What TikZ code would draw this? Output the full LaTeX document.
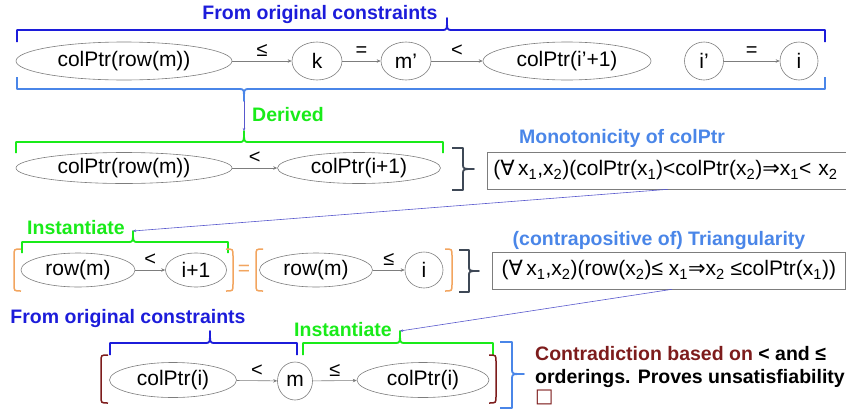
\documentclass[tikz,border=0pt]{standalone}
\usepackage{fontspec}
\setmainfont{Liberation Sans}
\newfontfamily\symfont{DejaVu Sans}
\usetikzlibrary{shapes.geometric, arrows.meta, calc}

\definecolor{origblue}{RGB}{28,28,218}
\definecolor{factblue}{RGB}{74,134,232}
\definecolor{derivgreen}{RGB}{25,235,25}
\definecolor{eqorange}{RGB}{242,165,95}
\definecolor{contrared}{RGB}{125,28,28}
\definecolor{bracegray}{RGB}{62,72,86}
\definecolor{linkblue}{RGB}{88,88,205}
\definecolor{nodegray}{RGB}{125,125,125}

\tikzset{
	oval/.style={ellipse, draw=nodegray, line width=0.6pt, inner sep=0pt, font=\fontsize{21}{25}\selectfont},
	rel/.style={draw=nodegray, line width=0.6pt, -{Stealth[length=4pt,width=3.5pt]}},
	relsym/.style={midway, above=1pt, font=\fontsize{20}{24}\selectfont},
	tag/.style={font=\bfseries\fontsize{19.5}{23}\selectfont},
	law/.style={draw=nodegray, line width=0.6pt, rectangle, minimum height=37pt, inner sep=0pt, font=\fontsize{21}{25}\selectfont},
	link/.style={draw=linkblue, line width=0.6pt, -{Stealth[length=3pt,width=2.5pt]}},
	brace/.style={line width=1.8pt, line join=round}
}

% horizontal brace: name of tip, colour, x left, x right, x tip, y of bar, legs
\newcommand{\hbrace}[7]{%
	\draw[brace, #2] (#3,{#6+(#7)}) -- (#3,#6) -- (#5-5,#6)
		.. controls (#5,#6) .. (#5,{#6-(#7)})
		.. controls (#5,#6) .. (#5+5,#6) -- (#4,#6) -- (#4,{#6+(#7)});
	\coordinate (#1) at (#5,{#6-(#7)});}

% vertical brace: colour, x of bar, y top, y bottom, y tip, legs
\newcommand{\vbrace}[6]{%
	\draw[brace, #1] (#2-#6,#3) -- (#2,#3) -- (#2,#5-5)
		.. controls (#2,#5) .. (#2+#6,#5)
		.. controls (#2,#5) .. (#2,#5+5) -- (#2,#4) -- (#2-#6,#4);}

% round side bracket: colour, x, y top, y bottom, curl
\newcommand{\sidebar}[5]{%
	\draw[#1, line width=1.5pt] ({#2+(#5)},#3) .. controls (#2,#3) .. (#2,#3+7)
		-- (#2,#4-7) .. controls (#2,#4) .. ({#2+(#5)},#4);}

\begin{document}
\begin{tikzpicture}[x=1pt, y=-1pt]
	\useasboundingbox (0,0) rectangle (846,410);

% given chain

	\node[tag, text=origblue] (givenTag) at (320,14) {From original constraints};
	\hbrace{givenTop}{origblue}{17}{825}{447}{30}{12}
	
	\node[oval, minimum width=216pt, minimum height=38pt] (cpRowM) at (124,61) {colPtr(row(m))};
	\node[oval, minimum width=50pt, minimum height=38pt] (k) at (317,61) {k};
	\node[oval, minimum width=50pt, minimum height=38pt] (mp) at (406,61) {m'};
	\node[oval, minimum width=168pt, minimum height=38pt] (cpIp) at (567,61) {colPtr(i'+1)};
	\node[oval, minimum width=39pt, minimum height=38pt] (ip) at (704,61) {i'};
	\node[oval, minimum width=38pt, minimum height=38pt] (i) at (799,61) {i};
	
	\draw[rel] (cpRowM) -- node[relsym] {≤} (k);
	\draw[rel] (k) -- node[relsym] {=} (mp);
	\draw[rel] (mp) -- node[relsym] {<} (cpIp);
	\draw[rel] (ip) -- node[relsym] {=} (i);
	
	\hbrace{givenFoot}{factblue}{17}{825}{244}{89}{-12}
	
% derived

	\node[tag, text=derivgreen] (derivedTag) at (288,115) {Derived};
	\hbrace{derivedTip}{derivgreen}{16}{443}{244}{142}{11}
	\draw[link] (givenFoot) -- (derivedTip);
	
	\node[oval, minimum width=216pt, minimum height=31pt] (dRowM) at (124,168) {colPtr(row(m))};
	\node[oval, minimum width=163pt, minimum height=31pt] (dIplus) at (359,168) {colPtr(i+1)};
	\draw[rel] (dRowM) -- node[relsym] {<} (dIplus);
	
	\vbrace{bracegray}{463}{148}{190}{169}{11}
	\node[tag, text=factblue] (monoTag) at (622,138) {Monotonicity of colPtr};
	\node[law, anchor=west, inner xsep=6pt, text width=370pt, align=left] (mono) at (487,170.5)
		{({\symfont ∀}\,x\textsubscript{1},x\textsubscript{2})(colPtr(x\textsubscript{1})<colPtr(x\textsubscript{2}){\symfont ⇒}x\textsubscript{1}< x\textsubscript{2}};
	
% instantiate, both sides

	\node[tag, text=derivgreen] (instTag) at (76,228) {Instantiate};
	\hbrace{instTip}{derivgreen}{22}{228}{133}{242}{11}
	\draw[link] ($(mono.south west)+(181,0)$) -- (instTip);
	
	\sidebar{eqorange}{14}{249}{291}{7}
	\node[oval, minimum width=114pt, minimum height=34pt] (rowM) at (78,270) {row(m)};
	\node[oval, minimum width=61pt, minimum height=34pt] (iplus) at (196,270) {i+1};
	\draw[rel] (rowM) -- node[relsym] {<} (iplus);
	\sidebar{eqorange}{233}{249}{291}{-7}
	
	\node[text=eqorange, font=\fontsize{21}{25}\selectfont] (same) at (244,270) {=};
	
	\sidebar{eqorange}{256}{249}{291}{7}
	\node[oval, minimum width=113pt, minimum height=34pt] (rowMb) at (316,270) {row(m)};
	\node[oval, minimum width=38pt, minimum height=36pt] (ib) at (424,270) {i};
	\draw[rel] (rowMb) -- node[relsym] {≤} (ib);
	\sidebar{eqorange}{452}{249}{291}{-7}
	
	\vbrace{bracegray}{469}{250}{292}{271}{10}
	\node[tag, text=factblue] (triTag) at (659,240) {(contrapositive of) Triangularity};
	\node[law, anchor=west, minimum width=353pt] (tri) at (492,270.5)
		{({\symfont ∀}\,x\textsubscript{1},x\textsubscript{2})(row(x\textsubscript{2})≤ x\textsubscript{1}{\symfont ⇒}x\textsubscript{2} ≤colPtr(x\textsubscript{1}))};
	
% contradiction

	\node[tag, text=origblue] (origTag) at (128,318) {From original constraints};
	\hbrace{origTip}{origblue}{110}{297}{210}{343}{12}
	\node[tag, text=derivgreen] (instTagB) at (343,330) {Instantiate};
	\hbrace{instTipB}{derivgreen}{303}{493}{400}{343}{12}
	\draw[link] ($(tri.south west)+(180,0)$) -- (instTipB);
	
	\sidebar{contrared}{101}{355}{403}{7}
	\node[oval, minimum width=127pt, minimum height=35pt] (cpI) at (173,380) {colPtr(i)};
	\node[oval, minimum width=35pt, minimum height=38pt] (m) at (295,381) {m};
	\node[oval, minimum width=132pt, minimum height=35pt] (cpIb) at (423,380) {colPtr(i)};
	\draw[rel] (cpI) -- node[relsym] {<} (m);
	\draw[rel] (m) -- node[relsym] {≤} (cpIb);
	\sidebar{contrared}{496}{355}{403}{-7}
	
	\vbrace{factblue}{512}{342}{408}{374}{12}
	\node[tag, anchor=north west, align=left, inner sep=0pt] (verdict) at (535,346)
		{\textcolor{contrared}{Contradiction based on} < and ≤\\
		orderings. Proves unsatisfiability\\[-4pt]
		\textcolor{contrared}{\mdseries\symfont □}};

\end{tikzpicture}
\end{document}
